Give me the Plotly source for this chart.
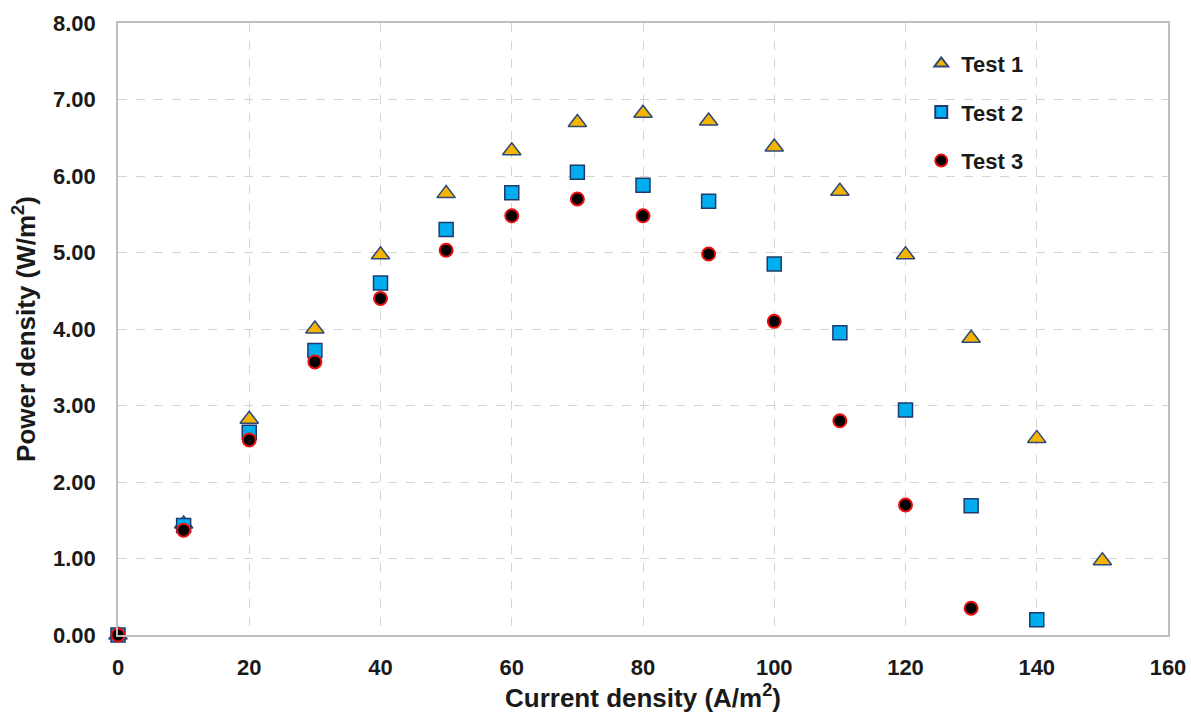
import plotly.graph_objects as go

current = [0, 10, 20, 30, 40, 50, 60, 70, 80, 90, 100, 110, 120, 130, 140, 150]
test1 = [0.00, 1.45, 2.82, 4.00, 4.97, 5.77, 6.33, 6.70, 6.82, 6.72, 6.38, 5.80, 4.97, 3.88, 2.57, 0.97]
test2 = [0.00, 1.43, 2.65, 3.72, 4.60, 5.30, 5.78, 6.05, 5.88, 5.67, 4.85, 3.95, 2.94, 1.69, 0.20]
test3 = [0.00, 1.37, 2.55, 3.57, 4.40, 5.03, 5.48, 5.70, 5.48, 4.98, 4.10, 2.80, 1.70, 0.35]

series = [
    ("Test 1", test1, dict(symbol="triangle-up", size=16, color="#F5B400",
                           line=dict(color="#2E4A7A", width=1.5))),
    ("Test 2", test2, dict(symbol="square", size=14, color="#00AEEF",
                           line=dict(color="#1F3A6E", width=1.5))),
    ("Test 3", test3, dict(symbol="circle", size=13, color="#000000",
                           line=dict(color="#E8100F", width=2))),
]

fig = go.Figure()
for name, vals, marker in series:
    fig.add_trace(go.Scatter(
        x=current[:len(vals)], y=vals, mode="markers", name=name,
        marker=marker, legendgroup=name, cliponaxis=False,
    ))

fig.update_layout(
    width=1191, height=715,
    margin=dict(l=118, r=23, t=23, b=80, autoexpand=False),
    paper_bgcolor="white", plot_bgcolor="white",
    font=dict(family="Liberation Sans, Arial", color="#1A1A1A"),
    legend=dict(
        x=0.765, y=0.968, xanchor="left", yanchor="top",
        bgcolor="rgba(0,0,0,0)", traceorder="grouped", tracegroupgap=17,
        itemsizing="constant",
        font=dict(family="Liberation Sans, Arial", size=22, color="#1A1A1A", weight="bold"),
        itemwidth=30,
    ),
    xaxis=dict(
        range=[0, 160], dtick=20, tick0=0, automargin=False,
        showgrid=True, gridcolor="#D4D4D4", griddash="dash", gridwidth=1,
        showline=True, linecolor="#BFBFBF", linewidth=1.5, mirror=True,
        zeroline=False, ticks="", ticklen=0, ticklabelstandoff=12,
        tickfont=dict(size=22, weight="bold"),
        title=dict(text="Current density (A/m<sup>2</sup>)", standoff=6,
                   font=dict(size=26, weight="bold")),
    ),
    yaxis=dict(
        range=[0, 8], dtick=1, tick0=0, tickformat=".2f", automargin=False,
        showgrid=True, gridcolor="#D4D4D4", griddash="dash", gridwidth=1,
        showline=True, linecolor="#BFBFBF", linewidth=1.5, mirror=True,
        zeroline=False, ticks="", ticklen=0, ticklabelstandoff=16,
        tickfont=dict(size=22, weight="bold"),
        title=dict(text="Power density (W/m<sup>2</sup>)", standoff=10,
                   font=dict(size=26, weight="bold")),
    ),
)

fig.write_html("out.html")
